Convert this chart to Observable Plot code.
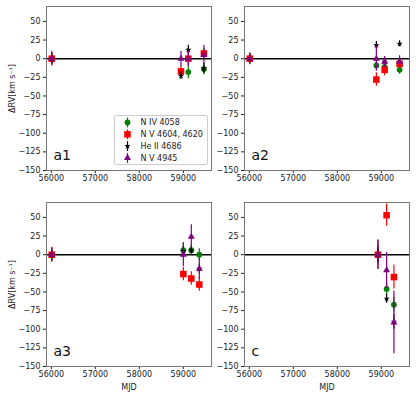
<!DOCTYPE html>
<html>
<head>
<meta charset="utf-8">
<script src="https://cdn.jsdelivr.net/npm/d3@7"></script>
<script src="https://cdn.jsdelivr.net/npm/@observablehq/plot@0.6"></script>
<style>
  html, body { margin: 0; padding: 0; background: #fff; }
  #root { position: relative; width: 416px; height: 398px; overflow: hidden; font-family: "DejaVu Sans", sans-serif; }
  .panel { position: absolute; }
  #legend { position: absolute; left: 114px; top: 115px; }
</style>
</head>
<body>
<div id="root">
  <div class="panel" id="p0" style="left:0px;top:0px"></div>
  <div class="panel" id="p1" style="left:204px;top:0px"></div>
  <div class="panel" id="p2" style="left:0px;top:196px"></div>
  <div class="panel" id="p3" style="left:204px;top:196px"></div>
  <div id="legend"></div>
</div>
<script>
// ---- axes / labels ----
const xTicks = [56000, 57000, 58000, 59000];
const yTicks = [50, 25, 0, -25, -50, -75, -100, -125, -150];
const xDomain = [55890, 59640];
const yDomain = [-150, 70];
const panelLabels = ["a1", "a2", "a3", "c"];
const yLabel = "ΔRV[km s⁻¹]";
const xLabel = "MJD";

// ---- series ----
const seriesNames = ["N IV 4058", "N V 4604, 4620", "He II 4686", "N V 4945"];
const seriesColors = ["green", "red", "black", "purple"];
const seriesSymbols = ["circle", "square", "star", "triangle"];

// ---- panel a1 ----  (rows: N IV, N V 4604/4620, He II, N V 4945)
const mjdA1 = [56010, 58946, 59113, 59467];
const rvA1  = [[0, null, -18, -14], [0, -17, 0, 7], [0, -23, 12, -13], [0, 0, 0, 5]];
const errA1 = [[8, null, 9, 8], [10, 8, 9, 7], [7, 5, 6, 7], [8, 10, 10, 13]];

// ---- panel a2 ----
const mjdA2 = [56010, 58887, 59075, 59415];
const rvA2  = [[0, -9, -11, -15], [0, -28, -15, -7], [0, 18, -4, 20], [0, 0, -4, -4]];
const errA2 = [[7, 6, 7, 6], [8, 9, 8, 7], [6, 5, 5, 4], [7, 17, 7, 8]];

// ---- panel a3 ----
const mjdA3 = [56010, 59000, 59181, 59363];
const rvA3  = [[0, 6, 6, 0], [0, -26, -32, -40], [0, 5, 6, -19], [0, 0, 24, -19]];
const errA3 = [[9, 10, 7, 8], [10, 9, 9, 9], [6, 6, 5, 6], [9, 16, 16, 14]];

// ---- panel c ----
const mjdC = [58923, 59120, 59286];
const rvC  = [[0, -46, -67], [0, 53, -30], [0, -59, -90], [0, -21, -91]];
const errC = [[12, 8, 10], [19, 15, 16], [10, 6, 10], [20, 24, 42]];

const panelData = [
  {mjd: mjdA1, rv: rvA1, err: errA1},
  {mjd: mjdA2, rv: rvA2, err: errA2},
  {mjd: mjdA3, rv: rvA3, err: errA3},
  {mjd: mjdC,  rv: rvC,  err: errC}
];

const symbolR = {circle: 2.9, square: 3.7, star: 2.0, triangle: 2.6};
const fmt = d3.format("d");

function makePanel(idx) {
  const pd = panelData[idx];
  const isLeft = idx % 2 === 0;
  const isBottom = idx >= 2;
  const marks = [Plot.ruleY([0], {stroke: "black", strokeWidth: 1.5})];
  seriesNames.forEach((name, s) => {
    const rows = pd.mjd.map((m, i) => ({mjd: m, rv: pd.rv[s][i], err: pd.err[s][i]}))
      .filter(d => d.rv != null);
    marks.push(Plot.ruleX(rows, {x: "mjd", y1: d => d.rv - d.err, y2: d => d.rv + d.err,
      stroke: seriesColors[s], strokeWidth: 1.2}));
    marks.push(Plot.dot(rows, {x: "mjd", y: "rv", symbol: seriesSymbols[s],
      r: symbolR[seriesSymbols[s]], fill: seriesColors[s]}));
  });
  marks.push(Plot.frame({stroke: "#777", strokeWidth: 1}));
  marks.push(Plot.text([panelLabels[idx]], {frameAnchor: "bottom-left", dx: 7, dy: -11,
    lineAnchor: "bottom", textAnchor: "start", fontSize: 14, fill: "#111"}));
  if (isLeft) {
    marks.push(Plot.text([yLabel], {frameAnchor: "left", dx: -34, rotate: -90,
      textAnchor: "middle", lineAnchor: "middle", fontSize: 8, fill: "#222"}));
  }
  if (isBottom) {
    marks.push(Plot.text([xLabel], {frameAnchor: "bottom", dy: 21,
      textAnchor: "middle", lineAnchor: "middle", fontSize: 8, fill: "#222"}));
  }
  const marginLeft = isLeft ? 46 : 40;
  const marginBottom = isBottom ? 32 : 22;
  return Plot.plot({
    width: marginLeft + 165 + 2,
    height: 6 + 164 + marginBottom,
    marginLeft, marginRight: 2, marginTop: 6, marginBottom,
    style: {fontFamily: "DejaVu Sans", fontSize: "8px", color: "#222", background: "transparent"},
    x: {domain: xDomain, ticks: xTicks, tickFormat: fmt, tickSize: 3, tickPadding: 2, label: null},
    y: {domain: yDomain, ticks: yTicks, tickFormat: fmt, tickSize: 3, tickPadding: 3, label: null},
    marks
  });
}

for (let i = 0; i < 4; i++) {
  document.getElementById("p" + i).appendChild(makePanel(i));
}

// ---- legend (in panel a1) ----
const symTypes = {circle: d3.symbolCircle, square: d3.symbolSquare, star: d3.symbolStar, triangle: d3.symbolTriangle};
const leg = d3.select("#legend").append("svg")
  .attr("width", 94).attr("height", 50)
  .style("font-family", "DejaVu Sans").style("font-size", "8px");
leg.append("rect").attr("x", 0.5).attr("y", 0.5).attr("width", 93).attr("height", 49)
  .attr("rx", 2).attr("fill", "white").attr("fill-opacity", 0.85).attr("stroke", "#ccc");
seriesNames.forEach((name, i) => {
  const cy = 7.5 + i * 11.8;
  const sym = seriesSymbols[i];
  const r = symbolR[sym];
  leg.append("line").attr("x1", 13.5).attr("x2", 13.5).attr("y1", cy - 5).attr("y2", cy + 5)
    .attr("stroke", seriesColors[i]).attr("stroke-width", 1.2);
  leg.append("path").attr("transform", `translate(13.5,${cy})`)
    .attr("d", d3.symbol(symTypes[sym], r * r * Math.PI)())
    .attr("fill", seriesColors[i]);
  leg.append("text").attr("x", 26.5).attr("y", cy).attr("dy", "0.35em")
    .attr("fill", "#222").text(name);
});
</script>
</body>
</html>
